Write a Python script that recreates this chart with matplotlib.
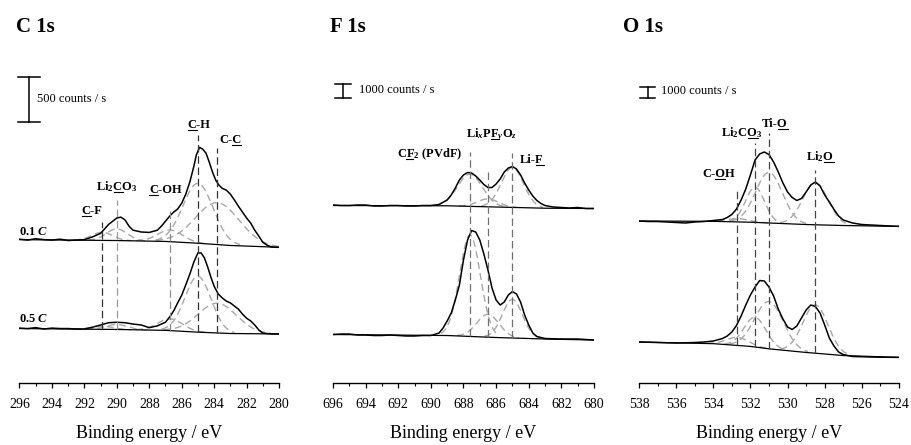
import matplotlib.pyplot as plt
import numpy as np
from matplotlib.lines import Line2D
from matplotlib.transforms import IdentityTransform
from matplotlib.ticker import MultipleLocator

plt.rcParams['font.family'] = ['Liberation Serif', 'DejaVu Serif']
plt.rcParams['mathtext.fontset'] = 'custom'
plt.rcParams['mathtext.rm'] = 'Liberation Serif:bold'
plt.rcParams['mathtext.it'] = 'Liberation Serif:italic:bold'
plt.rcParams['mathtext.bf'] = 'Liberation Serif:bold'

# -------------------------------------------------------------------------------------------------
# C 1s spectra (counts / s above the left background level)
c1s_e_01 = [296, 295.5, 295, 294.5, 294, 293.5, 293, 292.5, 292, 291.5, 291, 290.5, 290, 289.75,
            289.5, 289.25, 289, 288.5, 288, 287.5, 287.25, 287, 286.7, 286.5, 286.25, 286, 285.75,
            285.5, 285.25, 285.1, 284.9, 284.7, 284.5, 284.3, 284.1, 283.9, 283.7, 283.5, 283.25,
            283, 282.75, 282.5, 282.25, 282, 281.75, 281.5, 281.25, 281, 280.75, 280.5, 280.25, 280]
c1s_i_01 = [5, -5, 10, 0, -5, 5, -10, -5, 0, 30, 70, 170, 240, 250,
            220, 150, 105, 85, 80, 105, 150, 205, 270, 305, 340, 405, 505,
            640, 815, 940, 1025, 1005, 960, 860, 750, 660, 605, 570, 550,
            505, 440, 370, 305, 240, 185, 105, 40, -30, -60, -80, -85, -85]
c1s_e_05 = [296, 295.5, 295, 294.5, 294, 293.5, 293, 292.5, 292, 291.5, 291, 290.5, 290, 289.5,
            289, 288.5, 288, 287.5, 287, 286.7, 286.5, 286.25, 286, 285.75, 285.5, 285.25, 285,
            284.8, 284.6, 284.4, 284.2, 284, 283.75, 283.5, 283.25, 283, 282.75, 282.5, 282.25,
            282, 281.75, 281.5, 281.25, 281, 280.5, 280]
c1s_i_05 = [5, 0, 10, -5, 5, 0, 0, -5, -5, 15, 40, 65, 70, 65,
            50, 40, 10, 30, 70, 140, 195, 285, 370, 485, 605, 740, 840,
            840, 785, 685, 570, 470, 385, 340, 305, 285, 250, 215, 160,
            115, 85, 40, -15, -50, -60, -60]
c1s_bg_e = [296, 290, 287, 285, 283, 280]
c1s_bg_01 = [0, -10, -20, -40, -65, -85]
c1s_bg_05 = [0, -10, -20, -40, -55, -60]
c1s_names = [('', 'C', '-F'), ('Li$_2$', 'C', 'O$_3$'), ('', 'C', '-OH'), ('', 'C', '-H'), ('C-', 'C', '')]
c1s_pos = [290.9, 290.0, 286.7, 285.0, 283.8]
c1s_h_01 = [90, 130, 130, 665, 465]
c1s_h_05 = [35, 55, 130, 620, 330]
c1s_w_01 = [1.5, 1.5, 1.8, 2.2, 3.2]
c1s_w_05 = [1.5, 1.6, 1.8, 1.9, 2.8]

# F 1s spectra
f1s_e_01 = [696, 695.5, 695, 694.5, 694, 693.5, 693, 692.5, 692, 691.5, 691, 690.5, 690, 689.5,
            689, 688.75, 688.5, 688.25, 688, 687.75, 687.5, 687.25, 687, 686.75, 686.5, 686.25,
            686, 685.75, 685.5, 685.25, 685, 684.75, 684.5, 684.25, 684, 683.75, 683.5, 683.25,
            683, 682.5, 682, 681.5, 681, 680.5, 680]
f1s_i_01 = [35, 0, 0, 35, 35, -35, -35, 0, 0, -35, -35, 0, 0, 70,
            385, 735, 1225, 1785, 2135, 2310, 2275, 2065, 1785, 1470, 1260, 1260,
            1505, 1855, 2345, 2625, 2730, 2555, 2135, 1575, 1085, 665, 350, 140,
            0, -105, -140, -175, -140, -210, -210]
f1s_e_05 = [696, 695.5, 695, 694.5, 694, 693.5, 693, 692.5, 692, 691.5, 691, 690.5, 690, 689.5,
            689.25, 689, 688.75, 688.5, 688.25, 688, 687.75, 687.5, 687.25, 687, 686.75, 686.5,
            686.25, 686, 685.75, 685.5, 685.25, 685, 684.75, 684.5, 684.25, 684, 683.75, 683.5,
            683, 682.5, 682, 681.5, 681, 680.5, 680]
f1s_i_05 = [0, 35, 35, -35, -35, -70, -70, -35, -70, -105, -105, -70, -70, 105,
            455, 945, 1505, 2415, 3465, 5215, 6615, 7280, 7175, 6615, 5635, 4515,
            3255, 2415, 2065, 2275, 2765, 3010, 2835, 2275, 1365, 665, 105, -140,
            -280, -300, -315, -315, -315, -350, -385]
f1s_bg_e = [696, 689, 686, 683, 680]
f1s_bg_01 = [0, -20, -105, -190, -210]
f1s_bg_05 = [0, -70, -210, -315, -385]
f1s_names = [('C', 'F', '$_2$ (PVdF)'), ('Li$_x$P', 'F', '$_y$O$_z$'), ('Li-', 'F', '')]
f1s_pos = [687.6, 686.5, 685.0]
f1s_h_01 = [2250, 550, 2800]
f1s_h_05 = [7100, 1600, 2700]
f1s_w_01 = [1.8, 1.5, 1.6]
f1s_w_05 = [1.5, 1.6, 1.45]

# O 1s spectra
o1s_e = [538, 537.5, 537, 536.5, 536, 535.5, 535, 534.5, 534, 533.5, 533.25, 533, 532.75, 532.5,
         532.25, 532, 531.75, 531.5, 531.25, 531, 530.75, 530.5, 530.25, 530, 529.75, 529.5,
         529.25, 529, 528.75, 528.5, 528.25, 528, 527.75, 527.5, 527.25, 527, 526.5, 526, 525.5,
         525, 524.5, 524]
o1s_i_01 = [0, -45, -45, -90, -135, -180, -90, -45, 45, 135, 320, 590, 1090, 1910,
            2910, 4190, 5550, 6100, 6280, 6050, 5370, 4460, 3460, 2640, 2140, 1870,
            2050, 2640, 3280, 3550, 3190, 2370, 1730, 1050, 455, 90, -180, -320, -365,
            -410, -455, -490]
o1s_i_05 = [0, -20, -45, -70, -90, -70, -45, 0, 90, 320, 545, 910, 1500, 2365,
            3365, 4275, 5005, 5595, 5550, 5005, 4185, 3005, 2095, 1365, 1140, 1455,
            2185, 2910, 3365, 3230, 2640, 1545, 365, -365, -910, -1140, -1320, -1340, -1365,
            -1380, -1390, -1400]
o1s_bg_e = [538, 534, 532, 531, 529, 527, 524]
o1s_bg_01 = [0, -30, -110, -180, -320, -410, -490]
o1s_bg_05 = [0, -150, -400, -620, -950, -1230, -1400]
o1s_names = [('C-', 'O', 'H'), ('Li$_2$C', 'O', '$_3$'), ('Ti-', 'O', ''), ('Li$_2$', 'O', '')]
o1s_pos = [532.7, 531.75, 531.0, 528.5]
o1s_h_01 = [300, 3200, 4600, 3820]
o1s_h_05 = [730, 2700, 4300, 4400]
o1s_w_01 = [1.4, 1.2, 1.7, 1.6]
o1s_w_05 = [1.4, 1.4, 1.8, 1.6]

titles = ['C 1s', 'F 1s', 'O 1s']
scale_counts = [500, 1000, 1000]
sample_labels = ['0.1 $C$', '0.5 $C$']

# -------------------------------------------------------------------------------------------------
# Layout of each panel (positions only)
layout = [
    dict(rect=[0.0214, 0.1393, 0.2849, 0.7708], xlim=(296, 280), ytop=3811, off=(1593, 605),
         bar=(295.41, 0.68, 2897), bar_txt=(294.92, 3152),
         lab_xy=[(291.53, 1878), (290.0, 2144), (287.0, 2114), (284.93, 2833), (283.0, 2670)],
         line_top=[1789, 2033, 1955, 2755, 2611],
         line_col=['#333333', '#9a9a9a', '#8a8a8a', '#333333', '#333333'],
         sample_xy=[(296.03, 1644), (296.03, 678)], title_x=16),
    dict(rect=[0.3655, 0.1393, 0.2865, 0.7708], xlim=(696, 680), ytop=24010, off=(12425, 3395),
         bar=(695.39, 0.49, 19950), bar_txt=(694.39, 20510),
         lab_xy=[(690.08, 15820), (686.3, 17240), (683.8, 15420)],
         line_top=[16190, 14770, 16120],
         line_col=['#707070', '#707070', '#707070'],
         sample_xy=None, title_x=330),
    dict(rect=[0.7014, 0.1393, 0.2854, 0.7708], xlim=(538, 524), ytop=31213, off=(14742, 3731),
         bar=(537.52, 0.40, 25935), bar_txt=(536.82, 26572),
         lab_xy=[(533.72, 18720), (532.45, 22480), (530.68, 23320), (528.25, 20290)],
         line_top=[17730, 21810, 22720, 19380],
         line_col=['#444444', '#444444', '#444444', '#444444'],
         sample_xy=None, title_x=623),
]

spectra = [
    dict(top=(c1s_e_01, c1s_i_01), bot=(c1s_e_05, c1s_i_05), bg_e=c1s_bg_e, bg=(c1s_bg_01, c1s_bg_05),
         names=c1s_names, pos=c1s_pos, h=(c1s_h_01, c1s_h_05), w=(c1s_w_01, c1s_w_05)),
    dict(top=(f1s_e_01, f1s_i_01), bot=(f1s_e_05, f1s_i_05), bg_e=f1s_bg_e, bg=(f1s_bg_01, f1s_bg_05),
         names=f1s_names, pos=f1s_pos, h=(f1s_h_01, f1s_h_05), w=(f1s_w_01, f1s_w_05)),
    dict(top=(o1s_e, o1s_i_01), bot=(o1s_e, o1s_i_05), bg_e=o1s_bg_e, bg=(o1s_bg_01, o1s_bg_05),
         names=o1s_names, pos=o1s_pos, h=(o1s_h_01, o1s_h_05), w=(o1s_w_01, o1s_w_05)),
]


def component(e, c, h, w):
    # Gaussian fit component from its centre, height and FWHM
    return h * np.exp(-4 * np.log(2) * (e - c) ** 2 / w ** 2)


def bg_at(e, bg_e, bg_i):
    return np.interp(e, bg_e[::-1], bg_i[::-1])


fig = plt.figure(figsize=(9.11, 4.45), dpi=100)
underlines = []

for p, (lay, sp) in enumerate(zip(layout, spectra)):
    ax = fig.add_axes(lay['rect'])
    ax.set_xlim(*lay['xlim'])
    ax.set_ylim(0, lay['ytop'])
    for s in ['left', 'right', 'top']:
        ax.spines[s].set_visible(False)
    ax.spines['bottom'].set_linewidth(1.0)
    ax.set_yticks([])
    ax.xaxis.set_major_locator(MultipleLocator(2))
    ax.xaxis.set_minor_locator(MultipleLocator(1))
    ax.tick_params(axis='x', which='major', direction='out', length=3.5, width=0.9, pad=7, labelsize=10)
    ax.tick_params(axis='x', which='minor', direction='out', length=2.5, width=0.8)
    ax.set_xlabel('Binding energy / eV', fontsize=13)
    ax.xaxis.set_label_coords(0.5, -0.122)

    egrid = np.linspace(lay['xlim'][0], lay['xlim'][1], 600)
    for k, key in enumerate(['top', 'bot']):
        off = lay['off'][k]
        e, i = sp[key]
        bge = np.array(sp['bg_e'], float)
        bgi = np.array(sp['bg'][k], float)
        base = bg_at(egrid, bge, bgi)
        # fitted components
        for c, h, w in zip(sp['pos'], sp['h'][k], sp['w'][k]):
            g = component(egrid, c, h, w)
            y = np.where(g > 0.02 * h, off + base + g, np.nan)
            ax.plot(egrid, y, color='#a8a8a8', lw=1.0, dashes=(5, 3))
        # background
        ax.plot(bge, off + bgi, color='black', lw=0.9)
        # measured spectrum
        ax.plot(e, off + np.array(i, float), color='black', lw=1.1)

    # vertical reference lines
    bge = np.array(sp['bg_e'], float)
    for c, top, col in zip(sp['pos'], lay['line_top'], lay['line_col']):
        bottom = lay['off'][1] + bg_at(c, bge, np.array(sp['bg'][1], float))
        ax.plot([c, c], [bottom, top], color=col, lw=0.9, dashes=(6, 3))

    # peak labels
    for (pre, mark, post), (lx, ly) in zip(sp['names'], lay['lab_xy']):
        t = ax.text(lx, ly, pre + mark + post, ha='center', va='baseline', fontsize=9, fontweight='bold')
        underlines.append((t, pre, mark))

    # scale bar
    bx, bw, by = lay['bar']
    size = scale_counts[p]
    ax.plot([bx, bx], [by, by + size], color='black', lw=1.1, clip_on=False)
    ax.plot([bx - bw, bx + bw], [by, by], color='black', lw=1.1, clip_on=False)
    ax.plot([bx - bw, bx + bw], [by + size, by + size], color='black', lw=1.1, clip_on=False)
    ax.text(lay['bar_txt'][0], lay['bar_txt'][1], '%d counts / s' % size, ha='left', va='center', fontsize=9)

    if lay['sample_xy'] is not None:
        for lab, (sx, sy) in zip(sample_labels, lay['sample_xy']):
            ax.text(sx, sy, lab, ha='left', va='baseline', fontsize=9, fontweight='bold')

    fig.text(lay['title_x'] / 911, 1 - 32 / 445, titles[p], ha='left', va='baseline',
             fontsize=15, fontweight='bold')

# underline the marked atom in each peak label
fig.canvas.draw()
r = fig.canvas.get_renderer()


def text_width(s, size):
    if not s:
        return 0.0
    tmp = fig.text(0, 0, s, fontsize=size, fontweight='bold')
    wd = tmp.get_window_extent(r).width
    tmp.remove()
    return wd


for t, pre, mark in underlines:
    bb = t.get_window_extent(r)
    x0 = bb.x0 + text_width(pre, t.get_fontsize())
    x1 = bb.x0 + text_width(pre + mark, t.get_fontsize())
    _, yb = t.get_transform().transform(t.get_position())
    fig.add_artist(Line2D([x0, x1], [yb - 2, yb - 2], transform=IdentityTransform(),
                          color='black', lw=0.8))

fig.savefig('out.png', dpi=100)
